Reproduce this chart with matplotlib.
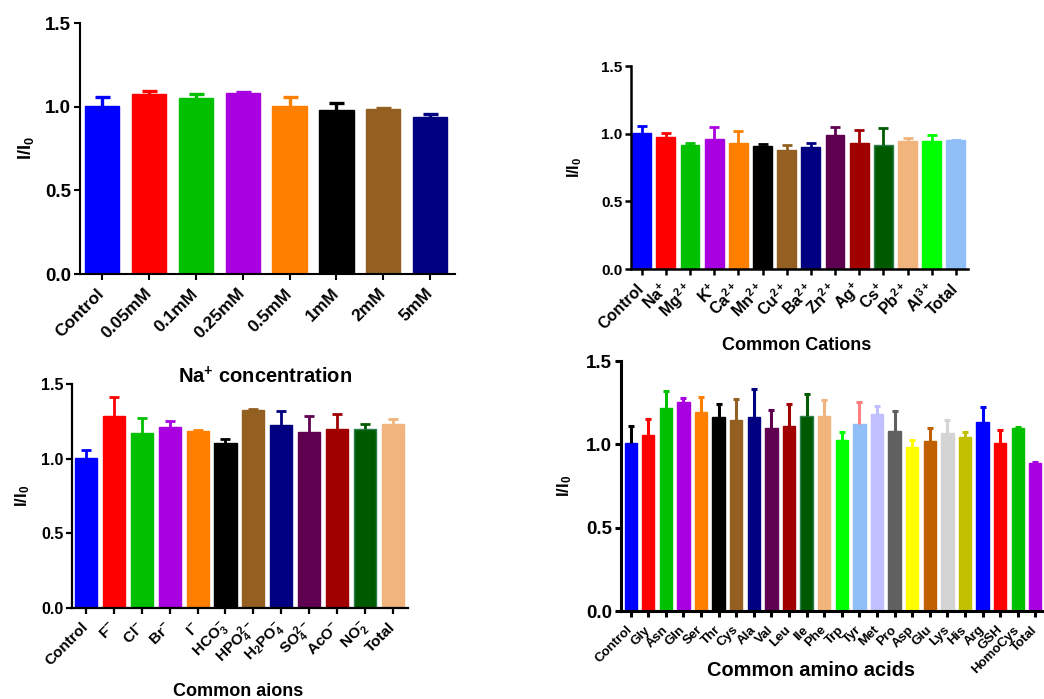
import matplotlib
matplotlib.use("Agg")
import matplotlib.pyplot as plt
import numpy as np

plt.rcParams['font.family'] = ['Liberation Sans', 'DejaVu Sans']
plt.rcParams['font.weight'] = 'bold'
plt.rcParams['mathtext.fontset'] = 'custom'
plt.rcParams['mathtext.rm'] = 'Liberation Sans:bold'
plt.rcParams['mathtext.it'] = 'Liberation Sans:bold'
plt.rcParams['mathtext.bf'] = 'Liberation Sans:bold'
plt.rcParams['mathtext.default'] = 'rm'

# ---------------- data ----------------
na_labels = ['Control', '0.05mM', '0.1mM', '0.25mM', '0.5mM', '1mM', '2mM', '5mM']
na_values = [1.004, 1.078, 1.054, 1.082, 1.006, 0.982, 0.988, 0.936]
na_errors = [0.052, 0.016, 0.022, 0.006, 0.050, 0.040, 0.002, 0.018]

cat_labels = ['Control', r'Na$^{+}$', r'Mg$^{2+}$', r'K$^{+}$', r'Ca$^{2+}$', r'Mn$^{2+}$',
              r'Cu$^{2+}$', r'Ba$^{2+}$', r'Zn$^{2+}$', r'Ag$^{+}$', r'Cs$^{+}$',
              r'Pb$^{2+}$', r'Al$^{3+}$', 'Total']
cat_values = [1.005, 0.978, 0.914, 0.961, 0.931, 0.906, 0.877, 0.899, 0.990, 0.929,
              0.916, 0.946, 0.948, 0.953]
cat_errors = [0.052, 0.029, 0.017, 0.086, 0.091, 0.018, 0.037, 0.030, 0.059, 0.101,
              0.123, 0.020, 0.045, 0.003]

an_labels = ['Control', r'F$^{-}$', r'Cl$^{-}$', r'Br$^{-}$', r'I$^{-}$', r'HCO$_{3}^{-}$',
             r'HPO$_{4}^{2-}$', r'H$_{2}$PO$_{4}^{-}$', r'SO$_{4}^{2-}$', r'AcO$^{-}$',
             r'NO$_{2}^{-}$', 'Total']
an_values = [1.006, 1.285, 1.171, 1.209, 1.185, 1.107, 1.326, 1.223, 1.180, 1.196, 1.196, 1.234]
an_errors = [0.051, 0.128, 0.101, 0.041, 0.004, 0.022, 0.009, 0.098, 0.103, 0.101, 0.034, 0.031]

aa_labels = ['Control', 'Gly', 'Asn', 'Gln', 'Ser', 'Thr', 'Cys', 'Ala', 'Val', 'Leu', 'Ile',
             'Phe', 'Trp', 'Tyr', 'Met', 'Pro', 'Asp', 'Glu', 'Lys', 'His', 'Arg', 'GSH',
             'HomoCys', 'Total']
aa_values = [1.006, 1.056, 1.218, 1.252, 1.196, 1.162, 1.144, 1.166, 1.100, 1.110, 1.168,
             1.168, 1.028, 1.124, 1.180, 1.080, 0.984, 1.020, 1.070, 1.046, 1.132, 1.010,
             1.100, 0.886]
aa_errors = [0.104, 0.098, 0.102, 0.024, 0.090, 0.080, 0.128, 0.166, 0.106, 0.134, 0.134,
             0.100, 0.044, 0.132, 0.052, 0.120, 0.040, 0.078, 0.074, 0.028, 0.092, 0.076,
             0.006, 0.006]

# ---------------- colours ----------------
palette = ['#0000ff', '#ff0000', '#00c000', '#a800e0', '#ff8000', '#000000', '#936021',
           '#000080', '#600050', '#a00000', '#005a00', '#f0b47c', '#00ff00', '#90bff8',
           '#c0c0ff', '#606060', '#ffff00', '#c06000', '#d4d4d4', '#c0c000',
           '#0000ff', '#ff0000', '#00c000', '#a800e0']
aa_err_colors = list(palette)
aa_err_colors[0] = '#000000'
aa_err_colors[13] = '#ff8080'

W, H = 1044, 699
fig = plt.figure(figsize=(W / 100, H / 100), dpi=100)


def axpos(l, t, r, b):
    return [l / W, 1 - b / H, (r - l) / W, (b - t) / H]


def panel(pos, labels, values, errors, colors, ecolors, xlim, width, ytfs, xtfs,
          spw, capsize, elw, ylab_x, ylab_fs):
    ax = fig.add_axes(axpos(*pos))
    x = np.arange(len(values))
    edge = ['#2d7f4e' if c == '#005a00' else c for c in colors]
    ax.bar(x, values, width=width, color=colors, edgecolor=edge, linewidth=1.0, zorder=2)
    for i in range(len(values)):
        eb = ax.errorbar(x[i], values[i], yerr=[[0], [errors[i]]], fmt='none',
                         ecolor=ecolors[i], elinewidth=elw, capsize=capsize,
                         capthick=elw, zorder=3)
        caps = eb[1]
        if len(caps) == 2:
            caps[0].set_visible(False)
    ax.set_xlim(*xlim)
    ax.set_ylim(0, 1.5)
    ax.set_yticks([0.0, 0.5, 1.0, 1.5])
    ax.set_yticklabels(['0.0', '0.5', '1.0', '1.5'], fontsize=ytfs, fontweight='bold')
    ax.set_xticks(x)
    ax.set_xticklabels(labels, rotation=45, ha='right', va='center',
                       rotation_mode='anchor', fontsize=xtfs, fontweight='bold')
    for s in ['top', 'right']:
        ax.spines[s].set_visible(False)
    for s in ['left', 'bottom']:
        ax.spines[s].set_linewidth(spw)
    ax.tick_params(axis='both', direction='out', length=4.3, width=spw, pad=2)
    ax.tick_params(axis='x', pad=8)
    ax.set_ylabel(r'I/I$_{0}$', fontsize=ylab_fs, fontweight='bold')
    ax.yaxis.set_label_coords(ylab_x, 0.5)
    return ax


ax1 = panel((80, 23, 455, 274), na_labels, na_values, na_errors, palette[:8], palette[:8],
            (-0.47, 7.53), 0.73, 13.5, 12.5, 1.5, 5.4, 2.4, (36 - 80) / 375, 13)
ax2 = panel((631, 66, 968, 269), cat_labels, cat_values, cat_errors, palette[:14], palette[:14],
            (-0.44, 13.5), 0.78, 11, 11.5, 1.8, 3.6, 2.0, (584 - 631) / 337, 11.5)
ax3 = panel((72, 384, 408, 608), an_labels, an_values, an_errors, palette[:12], palette[:12],
            (-0.5, 11.54), 0.79, 11.5, 11, 1.6, 3.3, 2.0, (32 - 72) / 336, 12)
ax4 = panel((621, 361, 1045, 611), aa_labels, aa_values, aa_errors, palette[:24], aa_err_colors,
            (-0.55, 23.55), 0.70, 13.5, 9.5, 2.2, 2.0, 2.2, (574 - 621) / 424, 12)


def ftext(xp, yp, s, fs):
    fig.text(xp / W, 1 - yp / H, s, ha='center', va='center', fontsize=fs, fontweight='bold')


ftext(265, 377, r'Na$^{+}$ concentration', 14.5)
ftext(797, 345, 'Common Cations', 13)
ftext(238, 691, 'Common aions', 13)
ftext(811, 671, 'Common amino acids', 14.4)

fig.savefig('out.png', dpi=100)
